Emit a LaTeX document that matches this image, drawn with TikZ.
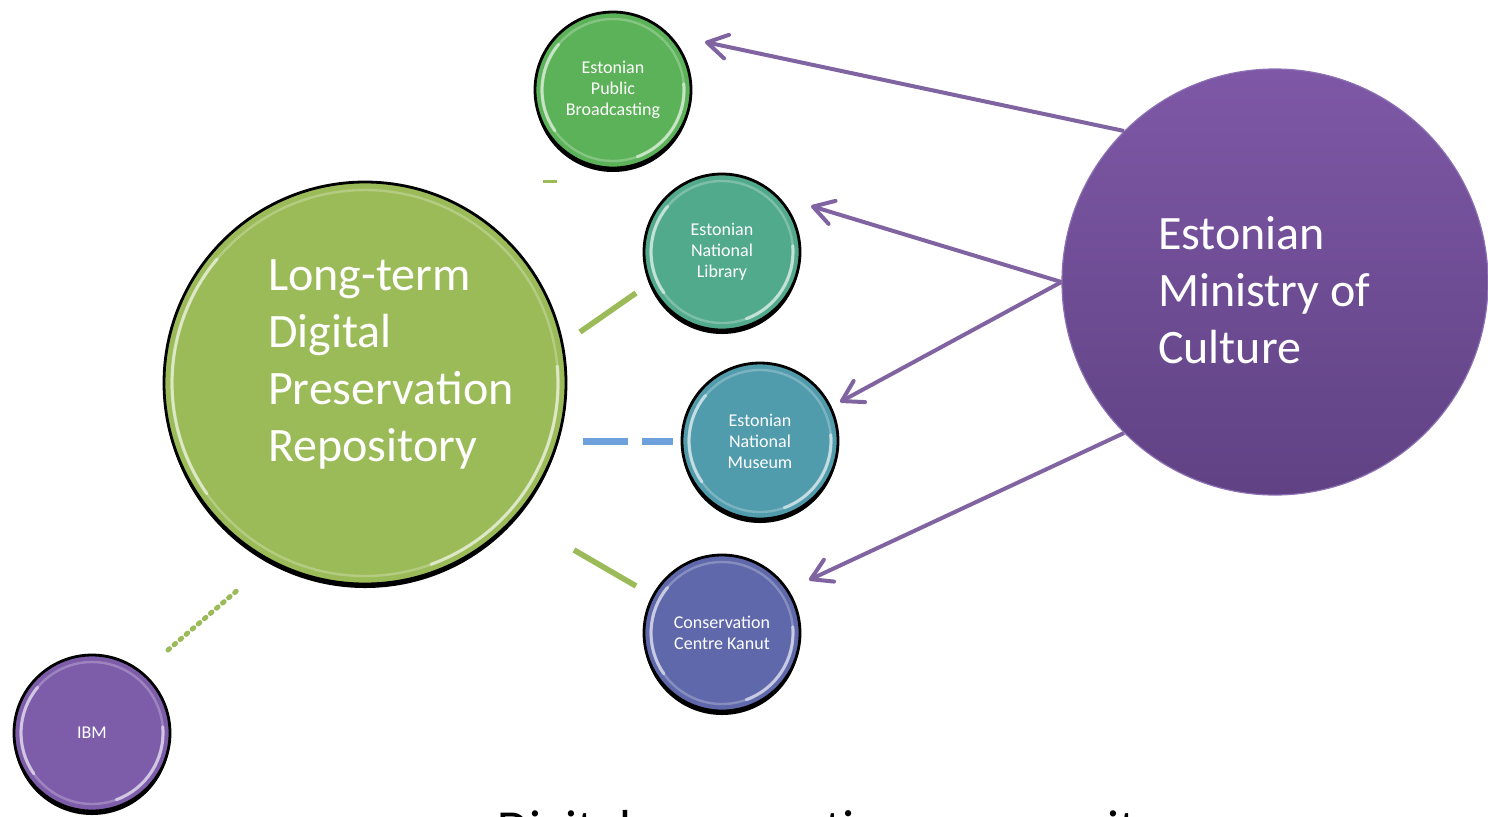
\documentclass[tikz,border=0pt]{standalone}
\usepackage{fontspec}
\setmainfont{Carlito}
\usetikzlibrary{positioning,arrows.meta}
\definecolor{repogreen}{RGB}{155,187,89}
\definecolor{errgreen}{RGB}{92,178,88}
\definecolor{libteal}{RGB}{82,170,140}
\definecolor{musblue}{RGB}{80,155,172}
\definecolor{kanutblue}{RGB}{94,104,170}
\definecolor{ibmpurple}{RGB}{125,92,170}
\definecolor{mintop}{RGB}{126,88,166}
\definecolor{minbot}{RGB}{96,66,132}
\definecolor{minedge}{RGB}{140,112,180}
\definecolor{arrpurple}{RGB}{128,100,162}
\definecolor{dashblue}{RGB}{110,160,220}
\tikzset{
	bubble/.style={
		circle, fill=#1, draw=black, line width=1.4pt,
		inner sep=0pt, minimum size=78pt,
		text=white, align=center,
		font=\fontsize{9}{10.5}\selectfont,
		preaction={fill=black, transform canvas={yshift=-2pt}}
	},
	gloss/.style={draw=white, opacity=0.25, line width=1.2pt},
	shine/.style={draw=white, opacity=0.55, line width=1.6pt, line cap=round},
	bigtxt/.style={text=white, align=left, anchor=west, font=\fontsize{24}{28.5}\selectfont},
	link/.style={draw=repogreen, line width=2.8pt},
	arr/.style={draw=arrpurple, line width=2pt, -{Straight Barb[length=10pt,width=12pt,round]}},
}

\begin{document}
\begin{tikzpicture}[x=0.5pt,y=0.5pt]
	\useasboundingbox (0,0) rectangle (1488,-816);
	\clip (0,0) rectangle (1488,-816);
	
	% ------------------- links out of the repository -------------------
	\coordinate (gErrA) at (543,-181);
	\coordinate (gErrB) at (557,-181);
	\coordinate (gLibA) at (580,-332);
	\coordinate (gLibB) at (636,-293);
	\coordinate (bMusA) at (583,-441);
	\coordinate (bMusB) at (673,-441);
	\coordinate (gKanA) at (574,-550);
	\coordinate (gKanB) at (636,-586);
	\coordinate (gIbmA) at (168,-650);
	\coordinate (gIbmB) at (240,-588);
	
	\draw[link, line width=1.5pt] (gErrA) -- (gErrB);
	\draw[link] (gLibA) -- (gLibB);
	\draw[draw=dashblue, line width=3.5pt, dash pattern=on 22.5pt off 7pt] (bMusA) -- (bMusB);
	\draw[link] (gKanA) -- (gKanB);
	\draw[link, line width=2.5pt, line cap=round, dash pattern=on 1pt off 3pt] (gIbmA) -- (gIbmB);
	
	% ------------------- bubbles -------------------
	\node[bubble=repogreen, minimum size=201pt] (nRepo) at (365,-383) {};
	\node[bubble=errgreen] (nERR) at (613,-90) {Estonian\\Public\\Broadcasting};
	\node[bubble=libteal] (nLib) at (722,-252) {Estonian\\National\\Library};
	\node[bubble=musblue] (nMus) at (760,-441) {Estonian\\National\\Museum};
	\node[bubble=kanutblue] (nKanut) at (722,-633) {Conservation\\Centre Kanut};
	\node[bubble=ibmpurple] (nIBM) at (92,-733) {IBM};
	
	% glossy rim on every bubble
	\foreach \nm/\r in {nRepo/96.5pt, nERR/35.5pt, nLib/35.5pt, nMus/35.5pt, nKanut/35.5pt, nIBM/35.5pt}{
		\draw[gloss] (\nm.center) circle[radius=\r];
		\draw[shine] ([shift={(140:\r)}]\nm.center) arc[start angle=140, end angle=215, radius=\r];
		\draw[shine] ([shift={(-70:\r)}]\nm.center) arc[start angle=-70, end angle=5, radius=\r];
	}
	
	\node[bigtxt] (tRepo) at (261,-364) {Long-term\\Digital\\Preservation\\Repository};
	
	% ------------------- ministry and its arrows -------------------
	\coordinate (hERR) at (705,-42);
	\coordinate (hLib) at (811,-206);
	\coordinate (hMus) at (840,-402);
	\coordinate (hKanut) at (809,-580);
	
	\node[circle, minimum size=213pt, top color=mintop, bottom color=minbot,
	draw=minedge, line width=0.6pt] (nMin) at (1275,-282) {};
	
	\draw[arr] (nMin.135) -- (hERR);
	\draw[arr] (nMin.west) -- (hLib);
	\draw[arr] (nMin.west) -- (hMus);
	\draw[arr] (nMin.225) -- (hKanut);
	
	\node[bigtxt] (tMin) at (1151,-290) {Estonian\\Ministry of\\Culture};
	
	% ------------------- caption (runs off the bottom) -------------------
	\node[font=\fontsize{26}{30}\selectfont, anchor=base west] (tCap) at (490,-846) {Digital preservation community};
	
\end{tikzpicture}
\end{document}
